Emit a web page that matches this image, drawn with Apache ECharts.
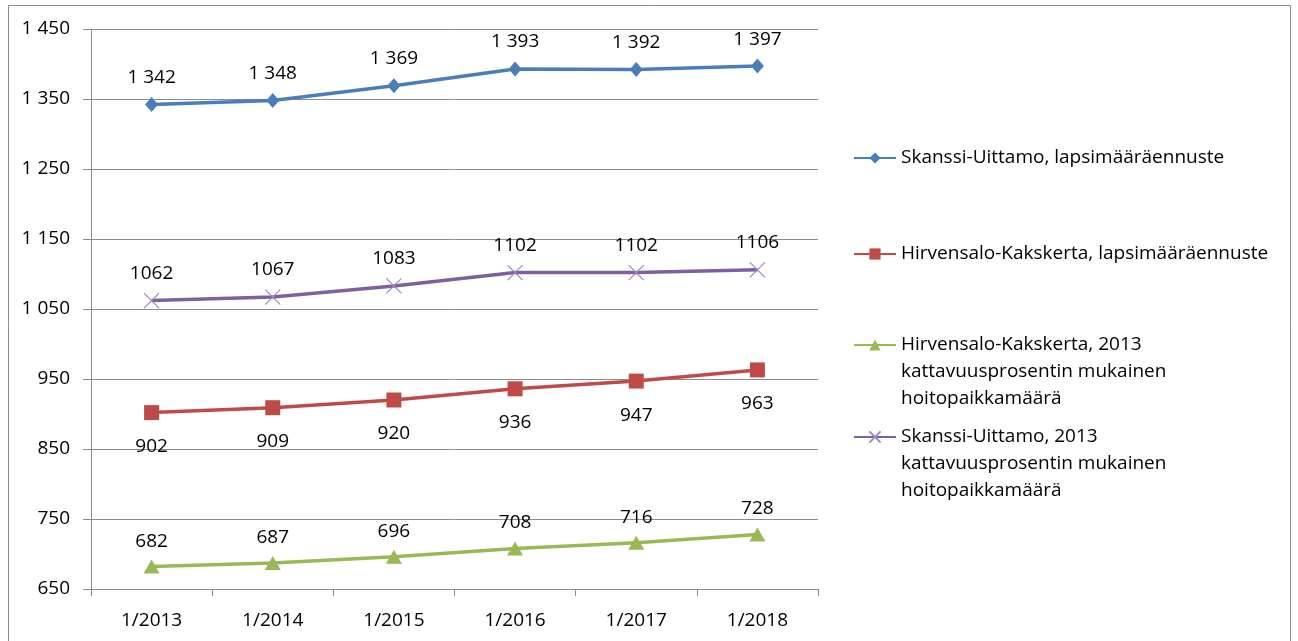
<!DOCTYPE html>
<html lang="fi">
  <head>
    <meta charset="UTF-8" />
    <title>Lapsimääräennuste</title>
    <script src="https://cdn.jsdelivr.net/npm/echarts@6/dist/echarts.min.js"></script>
    <style>
      body { margin: 0; background: #fff; }
    </style>
  </head>
  <body>
    <div id="main" style="width: 1298px; height: 641px"></div>
    <script type="text/javascript">
      // data
      var categories = ["1/2013", "1/2014", "1/2015", "1/2016", "1/2017", "1/2018"];
      var skanssiEnnuste = [1342, 1348, 1369, 1393, 1392, 1397];
      var hirvensaloEnnuste = [902, 909, 920, 936, 947, 963];
      var hirvensaloPaikat = [682, 687, 696, 708, 716, 728];
      var skanssiPaikat = [1062, 1067, 1083, 1102, 1102, 1106];
      var yTicks = [650, 750, 850, 950, 1050, 1150, 1250, 1350, 1450];

      var names = [
        "Skanssi-Uittamo, lapsimääräennuste",
        "Hirvensalo-Kakskerta, lapsimääräennuste",
        "Hirvensalo-Kakskerta, 2013 kattavuusprosentin mukainen hoitopaikkamäärä",
        "Skanssi-Uittamo, 2013 kattavuusprosentin mukainen hoitopaikkamäärä"
      ];
      // leading blank lines keep the icon level with the first line of text
      var legendText = {};
      legendText[names[0]] = names[0];
      legendText[names[1]] = names[1];
      legendText[names[2]] = "\n\nHirvensalo-Kakskerta, 2013\nkattavuusprosentin mukainen\nhoitopaikkamäärä";
      legendText[names[3]] = "\n\nSkanssi-Uittamo, 2013\nkattavuusprosentin mukainen\nhoitopaikkamäärä";

      var font = "'Open Sans', sans-serif";
      var textColor = "#000";
      var lh = 27;

      function fmt(v) {
        var s = String(v);
        return s.length > 3 ? s.slice(0, s.length - 3) + " " + s.slice(-3) : s;
      }

      function legendFor(name, center, lines) {
        var blockH = (2 * lines - 1) * lh;
        return {
          data: [name],
          left: 853,
          top: center - blockH / 2,
          padding: 0,
          itemWidth: 42,
          itemHeight: 14,
          itemGap: 0,
          selectedMode: false,
          formatter: function (n) { return legendText[n]; },
          textStyle: {
            fontFamily: font,
            fontSize: 19,
            color: textColor,
            lineHeight: lh
          }
        };
      }

      var xSymbol = "path://M0,0L10,10M10,0L0,10";

      var chart = echarts.init(document.getElementById("main"));

      var option = {
        animation: false,
        textStyle: { fontFamily: font },
        graphic: [
          {
            type: "rect",
            shape: { x: 8.5, y: 5.5, width: 1282, height: 700 },
            style: { fill: "none", stroke: "#8c8c8c", lineWidth: 1 },
            silent: true
          }
        ],
        legend: [
          legendFor(names[0], 158, 1),
          legendFor(names[1], 254, 1),
          legendFor(names[2], 345, 3),
          legendFor(names[3], 437, 3)
        ],
        grid: { left: 91, right: 480, top: 29, bottom: 52 },
        xAxis: {
          type: "category",
          data: categories,
          boundaryGap: true,
          axisLine: { lineStyle: { color: "#8c8c8c", width: 1 } },
          axisTick: { show: true, length: 7, lineStyle: { color: "#8c8c8c" } },
          axisLabel: {
            margin: 22,
            fontSize: 19,
            color: textColor,
            fontFamily: font
          }
        },
        yAxis: {
          type: "value",
          min: yTicks[0],
          max: yTicks[yTicks.length - 1],
          interval: 100,
          axisLine: { show: true, lineStyle: { color: "#8c8c8c", width: 1 } },
          axisTick: { show: true, length: 8, lineStyle: { color: "#8c8c8c" } },
          splitLine: { lineStyle: { color: "#8c8c8c", width: 1 } },
          axisLabel: {
            margin: 21,
            fontSize: 19,
            color: textColor,
            fontFamily: font,
            formatter: fmt
          }
        },
        series: [
          {
            name: names[0],
            type: "line",
            data: skanssiEnnuste,
            color: "#4a7ebb",
            lineStyle: { width: 3.5 },
            symbol: "diamond",
            symbolSize: [13, 15],
            label: {
              show: true,
              position: "top",
              distance: 10,
              fontSize: 19,
              color: textColor,
              fontFamily: font,
              formatter: function (p) { return fmt(p.value); }
            }
          },
          {
            name: names[1],
            type: "line",
            data: hirvensaloEnnuste,
            color: "#be4b48",
            lineStyle: { width: 3.5 },
            symbol: "rect",
            symbolSize: 15,
            label: {
              show: true,
              position: "bottom",
              distance: 17,
              fontSize: 19,
              color: textColor,
              fontFamily: font
            }
          },
          {
            name: names[2],
            type: "line",
            data: hirvensaloPaikat,
            color: "#98b954",
            lineStyle: { width: 3.5 },
            symbol: "triangle",
            symbolSize: [16, 14],
            label: {
              show: true,
              position: "top",
              distance: 9,
              fontSize: 19,
              color: textColor,
              fontFamily: font
            }
          },
          {
            name: names[3],
            type: "line",
            data: skanssiPaikat,
            color: "#7d60a0",
            lineStyle: { width: 3.5, color: "#7d60a0" },
            symbol: xSymbol,
            symbolSize: 15,
            itemStyle: { color: "none", borderColor: "#9b88c0", borderWidth: 1.2 },
            label: {
              show: true,
              position: "top",
              distance: 8,
              fontSize: 19,
              color: textColor,
              fontFamily: font
            }
          }
        ]
      };

      chart.setOption(option);
    </script>
  </body>
</html>
